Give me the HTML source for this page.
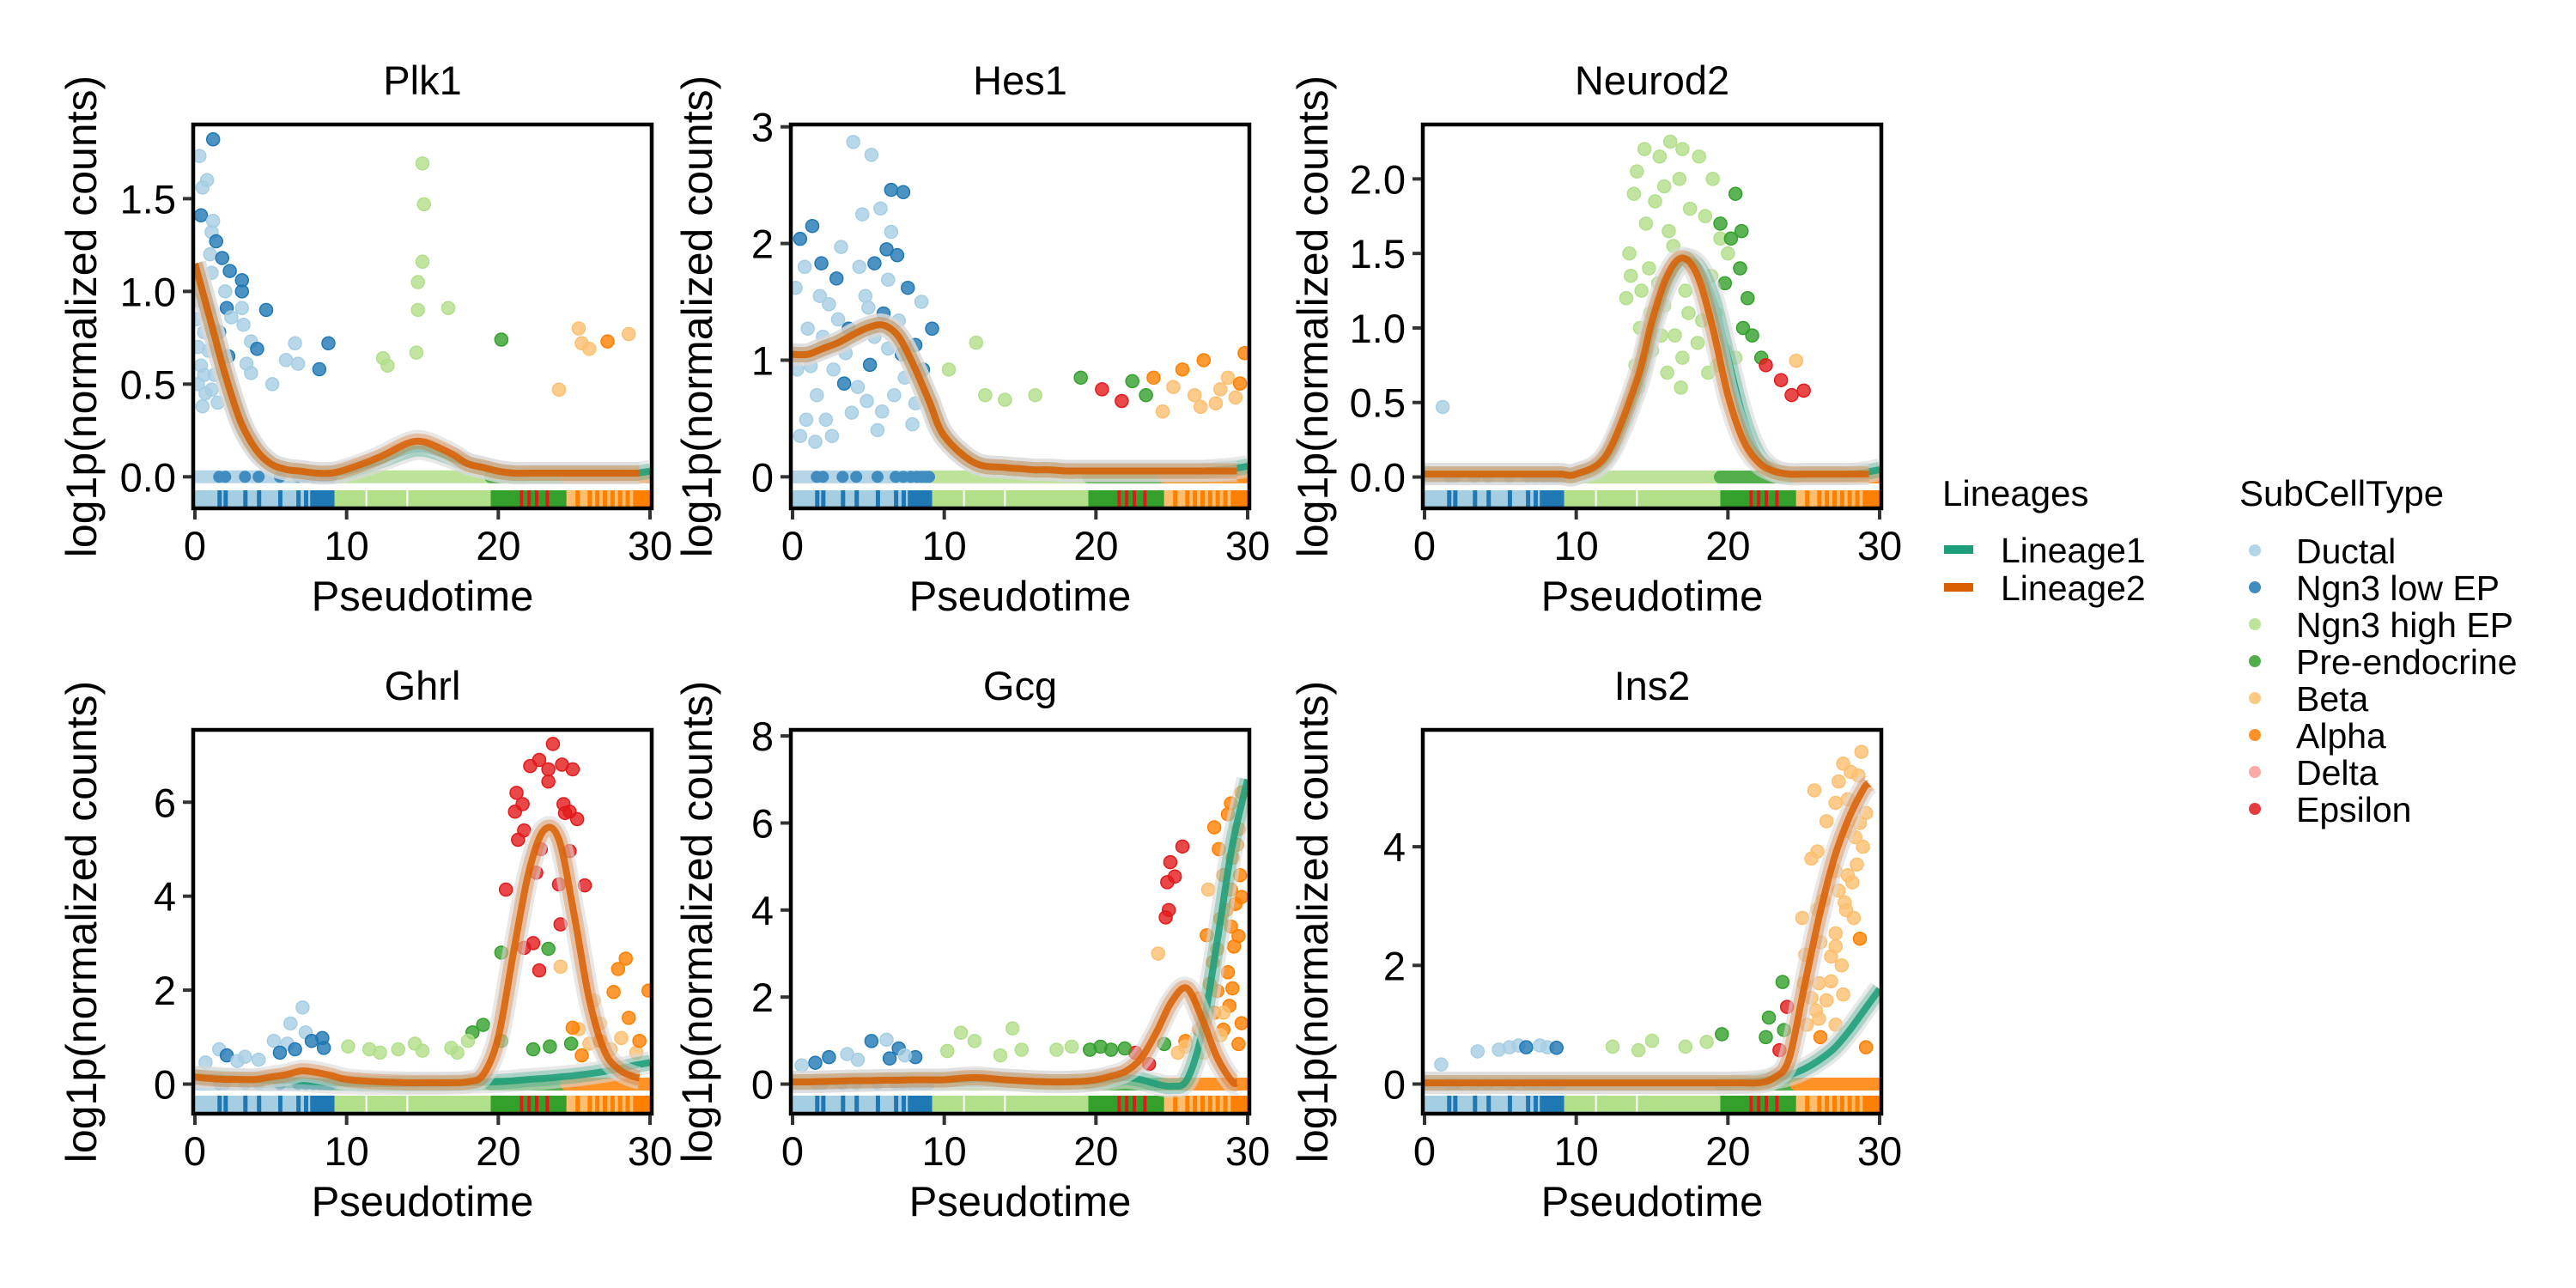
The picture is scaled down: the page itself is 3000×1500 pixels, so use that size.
<!DOCTYPE html>
<html><head><meta charset="utf-8">
<style>
html,body{margin:0;padding:0;background:#fff;}
svg{display:block;font-family:"Liberation Sans",Arial,sans-serif;}
</style></head>
<body>
<svg id="fig" width="3000" height="1500" viewBox="0 0 3000 1500" xmlns="http://www.w3.org/2000/svg">
<rect x="0" y="0" width="3000" height="1500" fill="#fff"/>
<g id="panels"></g>
<g id="legend-lineages">
  <text x="2262" y="589" font-size="42" fill="#000">Lineages</text>
  <g>
    <rect x="2264" y="635" width="34" height="10" fill="#1b9e77"/>
    <text x="2330" y="655" font-size="41">Lineage1</text>
  </g>
  <g>
    <rect x="2264" y="679" width="34" height="10" fill="#d95f02"/>
    <text x="2330" y="699" font-size="41">Lineage2</text>
  </g>
</g>
<g id="legend-types"></g>
</svg>
<script>
const NS="http://www.w3.org/2000/svg";
const typeNames=["Ductal","Ngn3 low EP","Ngn3 high EP","Pre-endocrine","Beta","Alpha","Delta","Epsilon"];
const typeColors=["#a6cee3","#1f78b4","#b2df8a","#33a02c","#fdbf6f","#ff7f00","#fb9a99","#e31a1c"];
const geneNames=["Plk1","Hes1","Neurod2","Ghrl","Gcg","Ins2"];
const yDomains=[[-0.17,1.90],[-0.27,3.02],[-0.21,2.365],[-0.63,7.54],[-0.68,8.14],[-0.5,5.97]];
const yTicks=[[0,0.5,1,1.5],[0,1,2,3],[0,0.5,1,1.5,2],[0,2,4,6],[0,2,4,6,8],[0,2,4]];
const yTickLabels=[["0.0","0.5","1.0","1.5"],["0","1","2","3"],["0.0","0.5","1.0","1.5","2.0"],["0","2","4","6"],["0","2","4","6","8"],["0","2","4"]];
const xTicks=[0,10,20,30];
const xTickLabels=["0","10","20","30"];
const gridT=[0,1,2,3,4,5,6,7,8,9,10,12,14,15,16,17,18,19,20,21,22,23,24,25,26,27,28,29,30];
const lin1=[
 [1.15,0.85,0.55,0.3,0.15,0.07,0.04,0.03,0.02,0.02,0.03,0.08,0.14,0.15,0.13,0.1,0.07,0.05,0.03,0.02,0.02,0.02,0.02,0.02,0.02,0.02,0.02,0.02,0.03],
 [1.05,1.05,1.1,1.15,1.22,1.28,1.3,1.2,0.95,0.65,0.35,0.12,0.08,0.07,0.06,0.06,0.05,0.05,0.05,0.05,0.05,0.05,0.05,0.05,0.05,0.05,0.06,0.07,0.09],
 [0.02,0.02,0.02,0.02,0.02,0.02,0.02,0.02,0.02,0.02,0.02,0.13,0.6,1.0,1.3,1.45,1.42,1.2,0.8,0.4,0.15,0.05,0.02,0.02,0.02,0.02,0.02,0.03,0.05],
 [0.15,0.14,0.12,0.1,0.09,0.08,0.08,0.07,0.05,0.03,0.02,0.01,0.01,0.01,0.01,0.02,0.03,0.04,0.05,0.07,0.1,0.12,0.15,0.18,0.22,0.27,0.33,0.4,0.46],
 [0.05,0.05,0.05,0.06,0.07,0.08,0.09,0.1,0.1,0.1,0.1,0.12,0.1,0.08,0.06,0.05,0.05,0.06,0.08,0.12,0.15,0.1,0.0,-0.05,0.1,1.2,3.3,5.5,7.0],
 [0.02,0.02,0.02,0.02,0.02,0.02,0.02,0.02,0.02,0.02,0.02,0.02,0.02,0.02,0.02,0.02,0.02,0.02,0.02,0.03,0.05,0.09,0.15,0.25,0.4,0.6,0.9,1.25,1.6]];
const lin2=[
 [1.15,0.85,0.55,0.3,0.15,0.07,0.04,0.03,0.02,0.02,0.04,0.1,0.18,0.19,0.16,0.12,0.07,0.05,0.03,0.02,0.02,0.02,0.02,0.02,0.02,0.02,0.02,0.02,0.02],
 [1.05,1.05,1.1,1.15,1.22,1.28,1.3,1.2,0.95,0.65,0.35,0.12,0.08,0.07,0.06,0.06,0.05,0.05,0.05,0.05,0.05,0.05,0.05,0.05,0.05,0.05,0.05,0.05,0.05],
 [0.02,0.02,0.02,0.02,0.02,0.02,0.02,0.02,0.02,0.02,0.02,0.15,0.65,1.05,1.35,1.47,1.35,1.0,0.55,0.25,0.1,0.04,0.02,0.02,0.02,0.02,0.02,0.02,0.02],
 [0.15,0.12,0.1,0.1,0.1,0.15,0.2,0.28,0.25,0.18,0.1,0.05,0.03,0.03,0.03,0.03,0.05,0.2,1.0,2.8,4.5,5.4,5.2,3.6,1.8,0.7,0.3,0.15,0.1],
 [0.05,0.05,0.06,0.07,0.08,0.08,0.09,0.09,0.1,0.1,0.1,0.15,0.1,0.08,0.06,0.05,0.05,0.06,0.1,0.18,0.3,0.6,1.2,1.9,2.2,1.5,0.6,0.05,0.05],
 [0.02,0.02,0.02,0.02,0.02,0.02,0.02,0.02,0.02,0.02,0.02,0.02,0.02,0.02,0.02,0.02,0.02,0.02,0.02,0.02,0.02,0.1,0.4,1.6,2.8,3.8,4.5,5.0,5.2]];
const lin2End=[29.3,29.3,29.3,29.3,29.3,29.3];
const pts=[
 [[1.2,1.82,1],[0.3,1.73,0],[0.8,1.6,0],[0.5,1.56,0],[0.4,1.41,1],[1.2,1.38,0],[1.1,1.32,0],[1.4,1.27,1],[1.0,1.2,0],[1.8,1.18,1],[1.1,1.1,0],[2.3,1.11,1],[3.1,1.06,1],[3.1,1.0,1],[2.0,1.0,0],[3.1,0.91,0],[4.7,0.9,1],[2.1,0.91,1],[2.4,0.86,0],[3.2,0.82,0],[1.6,0.78,1],[3.7,0.73,0],[4.1,0.69,1],[6.6,0.72,0],[8.8,0.72,1],[2.2,0.65,1],[6.0,0.63,0],[6.8,0.61,0],[3.4,0.61,0],[3.7,0.56,0],[8.2,0.58,1],[5.1,0.5,0],[0.6,0.78,0],[0.9,0.68,0],[0.4,0.6,0],[0.7,0.45,0],[1.1,0.47,0],[1.5,0.4,0],[0.5,0.38,0],[0.3,0.95,0],[0.1,0.85,0],[0.2,0.7,0],[0.6,0.55,0],[0.9,0.9,0],[1.3,0.55,0],[0.2,0.5,0],
  [15.0,1.69,2],[15.1,1.47,2],[15.0,1.16,2],[14.7,1.05,2],[14.7,0.9,2],[16.7,0.91,2],[12.4,0.64,2],[12.7,0.6,2],[14.6,0.67,2],[20.2,0.74,3],[25.3,0.8,4],[25.5,0.72,4],[26.0,0.69,4],[28.6,0.77,4],[24.0,0.47,4],[27.2,0.73,5]],
 [[4,2.87,0],[5.2,2.76,0],[6.5,2.46,1],[7.3,2.44,1],[1.3,2.15,1],[0.5,2.04,1],[1.9,1.83,1],[3.2,1.97,0],[4.6,2.25,0],[5.4,1.83,1],[6.3,1.69,0],[7.6,1.62,1],[2.4,1.48,0],[1.0,1.27,0],[3.7,1.27,1],[7.0,1.34,0],[8.1,1.13,1],[8.6,0.92,1],[9.2,1.27,1],[0.3,0.92,0],[1.6,0.7,0],[0.5,0.35,0],[2.2,0.49,0],[4.3,0.77,0],[5.9,0.56,0],[8.1,0.63,0],[7.4,0.85,0],[3.5,1.06,0],[5.1,0.96,1],[0.2,1.62,0],[0.9,0.49,0],[6.5,2.1,0],[5.4,1.2,0],[2.7,0.92,0],[4.8,1.55,0],[2.9,1.7,1],[6.9,1.9,1],
  [5.8,2.3,0],[6.2,1.95,1],[4.4,1.8,0],[5.0,1.45,0],[6.0,1.4,1],[3.0,1.35,0],[2.0,1.2,0],[1.2,0.95,0],[3.9,0.55,0],[4.9,0.65,0],[6.7,0.7,0],[7.9,0.45,0],[2.6,0.35,0],[1.5,0.3,0],[6.3,1.1,0],[7.2,1.05,1],[8.5,1.5,0],[5.6,0.4,0],[3.4,0.8,1],[1.8,1.55,0],[0.8,1.8,0],
  [12.1,1.15,2],[12.7,0.7,2],[16,0.7,2],[10.3,0.92,2],[14,0.66,2],[19,0.85,3],[20.4,0.75,7],[21.7,0.65,7],[22.4,0.82,3],[23.3,0.7,3],[23.8,0.85,5],[25.7,0.92,5],[27.1,1.0,5],[28.7,0.85,4],[29.2,0.68,4],[27.9,0.63,4],[26.5,0.7,4],[29.8,1.06,5],[25.1,0.77,4],[24.4,0.56,4],[28.2,0.75,4],[26.9,0.6,4],[29.5,0.8,5]],
 [[14.5,2.2,2],[15.5,2.15,2],[16.2,2.25,2],[17,2.2,2],[18.1,2.15,2],[14,2.05,2],[16.8,2.0,2],[19,2.0,2],[13.8,1.9,2],[15.2,1.85,2],[18.5,1.75,2],[14.6,1.7,2],[16.1,1.65,2],[19.5,1.6,2],[13.5,1.5,2],[14.8,1.4,2],[18.9,1.35,2],[20,1.5,2],[13.3,1.2,2],[15.8,1.15,2],[17.4,1.1,2],[19.2,1.1,2],[14.2,1.0,2],[16.5,0.95,2],[18,0.9,2],[15,0.85,2],[17,0.8,2],[19.8,0.85,2],[13.9,0.75,2],[16,0.7,2],[18.7,0.7,2],[20.5,0.8,2],[15.4,1.3,2],[17.8,1.4,2],[14.3,1.25,2],
  [15.8,1.95,2],[17.5,1.8,2],[16.4,1.55,2],[13.6,1.35,2],[14.9,1.1,2],[17.2,1.25,2],[18.3,1.05,2],[15.6,0.95,2],[16.9,0.6,2],[14.1,0.6,2],[19.3,0.75,2],
  [19.5,1.7,3],[20.2,1.6,3],[20.8,1.4,3],[21.3,1.2,3],[20.5,1.9,3],[19.8,1.3,3],[21.0,1.0,3],[21.6,0.95,3],[22.2,0.8,3],[20.9,1.65,3],[22.5,0.75,7],[23.5,0.65,7],[25.0,0.58,7],[24.2,0.55,7],[24.5,0.78,4],[1.2,0.47,0]],
 [[23.6,7.24,7],[22.7,6.9,7],[22.1,6.77,7],[23.3,6.7,7],[24.2,6.8,7],[24.9,6.7,7],[23.3,6.44,7],[21.2,6.2,7],[21.6,5.96,7],[21.1,5.8,7],[24.3,5.96,7],[24.7,5.8,7],[25.2,5.64,7],[24.4,5.77,7],[21.7,5.4,7],[21.3,5.2,7],[22.8,5.0,7],[24.7,4.96,7],[22.5,4.5,7],[24,4.25,7],[25.7,4.23,7],[20.5,4.14,7],[24.1,3.4,7],[22.3,3.0,7],[21.7,2.9,7],[22.7,2.42,7],
  [23.3,2.88,3],[20.2,2.8,3],[18.3,1.1,3],[19,1.26,3],[20.2,0.92,3],[22.3,0.74,3],[23.4,0.8,3],[24.8,0.86,3],
  [24.1,2.5,4],[26.3,1.78,4],[25.3,1.17,4],[26.7,1.29,4],[28.1,0.98,4],[27.4,0.74,4],[29.1,0.67,4],[26,0.86,4],
  [28.4,2.67,5],[27.9,2.45,5],[27.6,1.96,5],[29.9,1.99,5],[24.9,1.2,5],[28.6,1.41,5],[29.3,0.92,5],[26.7,0.92,5],[25.5,0.61,5],
  [7.1,1.63,0],[6.3,1.29,0],[5.2,0.92,0],[6.1,0.86,0],[7.3,1.1,0],[7.7,0.92,1],[8.4,0.98,1],[8.5,0.77,1],[1.6,0.74,0],[2.1,0.61,1],[3.3,0.58,0],[4.2,0.52,0],[0.7,0.46,0],[2.8,0.49,0],[5.6,0.67,1],[6.6,0.74,1],
  [10.1,0.8,2],[11.5,0.74,2],[12.2,0.67,2],[13.4,0.74,2],[14.5,0.86,2],[15,0.71,2],[16.9,0.77,2],[17.3,0.67,2],[18,0.92,2]],
 [[29.6,6.7,5],[28.9,6.45,5],[28.7,6.2,5],[27.8,5.9,5],[29.4,5.86,5],[28.1,5.4,5],[29.0,5.2,5],[29.5,4.8,5],[28.9,4.47,5],[29.2,4.14,5],[28.6,4.0,5],[28.9,3.62,5],[27.3,3.42,5],[29.1,3.16,5],[28,3.1,5],[28.7,2.57,5],[27.5,2.3,5],[28,2.14,5],[26.8,1.97,5],[27.8,1.64,5],[28.4,1.25,5],[29.4,0.92,5],[25.9,0.99,5],[26.8,1.25,5],
  [29.3,5.5,5],[28.4,4.8,5],[29.6,4.3,5],[28.2,3.8,5],[29.4,3.4,5],[27.7,2.8,5],[29.0,2.2,5],[28.8,1.8,5],[27.2,1.5,5],[29.6,1.4,5],
  [27.4,4.47,4],[24.1,3.0,4],[28.2,1.12,4],[25.9,0.86,4],[27.1,0.72,4],[28.4,1.64,4],[25.4,0.72,4],
  [25.7,5.46,7],[24.9,5.1,7],[25.2,4.77,7],[24.7,4.64,7],[24.8,4.0,7],[24.6,3.83,7],[23.5,0.46,7],[22.6,0.72,7],
  [20.3,0.86,3],[21,0.79,3],[21.9,0.82,3],[24.5,0.92,3],[19.6,0.79,3],
  [11.1,1.18,2],[12,0.99,2],[14.5,1.28,2],[10.2,0.76,2],[13.7,0.66,2],[15.1,0.79,2],[17.4,0.79,2],[18.4,0.86,2],
  [5.2,0.99,1],[6.2,1.02,0],[7,0.82,1],[8.1,0.62,1],[6.4,0.59,1],[2.4,0.62,1],[1.5,0.49,1],[3.6,0.69,0],[0.6,0.43,0],[4.3,0.56,0],[7.4,0.66,0]],
 [[28.8,5.6,4],[27.6,5.4,4],[28.1,5.26,4],[27.3,5.1,4],[25.7,4.95,4],[27.1,4.74,4],[29.1,4.57,4],[26.5,4.43,4],[28,4.26,4],[28.4,4.16,4],[28.9,4,4],[25.5,3.8,4],[25.9,3.92,4],[27.1,3.59,4],[27.9,3.52,4],[28.2,3.4,4],[27.3,3.26,4],[27.7,3.06,4],[25.9,2.94,4],[27.8,2.93,4],[24.9,2.8,4],[27.1,2.54,4],[26.1,2.39,4],[27.1,2.32,4],[25.1,2.18,4],[26.8,2.15,4],[25,1.7,4],[26,1.7,4],[26.8,1.73,4],[27.6,1.51,4],[26.5,1.41,4],[25.8,1.24,4],[25.2,1.0,4],[27.1,1.0,4],[28.5,3.7,4],[28.7,4.4,4],
  [26.3,3.1,4],[27.5,2.0,4],[28.3,2.8,4],[26.0,1.1,4],[25.5,1.45,4],[27.9,4.8,4],[28.6,5.2,4],
  [28.7,2.45,5],[26.1,0.79,5],[29.1,0.62,5],
  [23.6,1.72,3],[22.7,1.12,3],[23.7,0.91,3],[22.5,0.79,3],[19.6,0.84,3],
  [23.9,1.3,7],[23.4,0.57,7],
  [12.4,0.63,2],[14.1,0.57,2],[15,0.73,2],[17.2,0.63,2],[18.6,0.71,2],
  [1.1,0.33,0],[3.5,0.55,0],[4.9,0.58,0],[5.6,0.62,0],[6.2,0.65,0],[6.7,0.62,1],[7.6,0.65,0],[8.1,0.62,0],[8.7,0.61,1]]
];
const zeroSegT0=[0,9.3,19.5,24.5];
const zeroSegT1=[9.3,19.5,24.5,30];
const zeroSegType=[0,2,3,5];
const rugLowEP=[1.6,2.0,3.3,4.2,5.6,6.8,7.3,7.8,8.2,8.5,8.8,9.0];
const rugEps=[21.5,22.0,22.5,23.2];
const rugAlpha=[25.2,26,26.5,27,27.5,28,28.5,29.0,29.3,29.6];
const rugWhite=[11.3,14.0];

const panelX=[225,921,1657,225,921,1657];
const panelY=[145,145,145,850,850,850];
const PW=534, PH=447;
const titleX=[96,813,1530,96,813,1530];

function el(tag,attrs,parent){const e=document.createElementNS(NS,tag);for(const k in attrs)e.setAttribute(k,attrs[k]);if(parent)parent.appendChild(e);return e;}
function smoothPath(P){
  let d="M"+P[0][0].toFixed(1)+","+P[0][1].toFixed(1);
  for(let i=0;i<P.length-1;i++){
    const p0=P[Math.max(0,i-1)],p1=P[i],p2=P[i+1],p3=P[Math.min(P.length-1,i+2)];
    const c1=[p1[0]+(p2[0]-p0[0])/6,p1[1]+(p2[1]-p0[1])/6];
    const c2=[p2[0]-(p3[0]-p1[0])/6,p2[1]-(p3[1]-p1[1])/6];
    d+="C"+c1[0].toFixed(1)+","+c1[1].toFixed(1)+" "+c2[0].toFixed(1)+","+c2[1].toFixed(1)+" "+p2[0].toFixed(1)+","+p2[1].toFixed(1);
  }
  return d;
}
const root=document.getElementById("panels");
for(let p=0;p<6;p++){
  const x0=panelX[p],y0=panelY[p];
  const [ymin,ymax]=yDomains[p];
  const sx=t=>x0+2+(t/30)*(PW-4);
  const sy=v=>y0+PH-(v-ymin)/(ymax-ymin)*PH;
  const g=el("g",{},root);
  
  
  const cp=el("clipPath",{id:"clip"+p},g);
  el("rect",{x:x0,y:y0,width:PW,height:PH},cp);
  const inner=el("g",{"clip-path":"url(#clip"+p+")"},g);
  const rug=el("g",{},inner);
  
  
  const rugY=y0+PH-21, rugH=19;
  const rugBase=[[0,9.2,0],[9.2,19.5,2],[19.5,24.5,3],[24.5,30,4]];
  rugBase.forEach(s=>el("rect",{x:sx(s[0]),y:rugY,width:sx(s[1])-sx(s[0]),height:rugH,fill:typeColors[s[2]]},rug));
  el("rect",{x:sx(7.6),y:rugY,width:sx(9.2)-sx(7.6),height:rugH,fill:typeColors[1]},rug);
  rugLowEP.forEach(t=>el("rect",{x:sx(t)-2,y:rugY,width:5,height:rugH,fill:typeColors[1]},rug));
  rugEps.forEach(t=>el("rect",{x:sx(t)-1.5,y:rugY,width:4,height:rugH,fill:typeColors[7]},rug));
  rugAlpha.forEach(t=>el("rect",{x:sx(t)-2,y:rugY,width:5,height:rugH,fill:typeColors[5]},rug));
  rugWhite.forEach(t=>el("rect",{x:sx(t)-1,y:rugY,width:2,height:rugH,fill:"#fff"},rug));
  el("rect",{x:sx(29),y:rugY,width:sx(30)-sx(29)+4,height:rugH,fill:typeColors[5]},rug);
  const zr=el("g",{opacity:0.85},inner);
  
  
  for(let i=0;i<zeroSegT0.length;i++){
    el("line",{x1:sx(zeroSegT0[i]),x2:sx(zeroSegT1[i]),y1:sy(0),y2:sy(0),stroke:typeColors[zeroSegType[i]],"stroke-width":15,"stroke-linecap":"round"},zr);
  }
  rugLowEP.forEach(t=>el("circle",{cx:sx(t),cy:sy(0),r:7,fill:typeColors[1]},zr));
  const sc=el("g",{},inner);
  
  
  pts[p].forEach(q=>{
    const c=el("circle",{cx:sx(q[0]),cy:sy(q[1]),r:7.5,fill:typeColors[q[2]],"fill-opacity":0.8,stroke:typeColors[q[2]],"stroke-width":1.5},sc);
    
    
  });
  const drawLine=(vals,color,endT,name)=>{
    const P=[];
    for(let i=0;i<gridT.length;i++){ if(gridT[i]<=endT) P.push([sx(gridT[i]),sy(vals[i])]); }
    if(endT<30){ const i=gridT.findIndex(t=>t>endT); const f=(endT-gridT[i-1])/(gridT[i]-gridT[i-1]); P.push([sx(endT),sy(vals[i-1]+(vals[i]-vals[i-1])*f)]); }
    const d=smoothPath(P);
    const lg=el("g",{},inner);
    
    
    el("path",{d:d,fill:"none",stroke:"#d9d9d9","stroke-width":26,"stroke-opacity":0.6,"stroke-linejoin":"round"},lg);
    el("path",{d:d,fill:"none",stroke:color,"stroke-width":18,"stroke-opacity":0.3,"stroke-linejoin":"round"},lg);
    el("path",{d:d,fill:"none",stroke:color,"stroke-width":8,"stroke-opacity":0.85,"stroke-linejoin":"round"},lg);
  };
  drawLine(lin1[p],"#1b9e77",30,"lineage1-curve");
  drawLine(lin2[p],"#d95f02",lin2End[p],"lineage2-curve");
  const b=el("rect",{x:x0,y:y0,width:PW,height:PH,fill:"none",stroke:"#000","stroke-width":4.5},g);
  
  
  const ya=el("g",{},g);
  
  
  yTicks[p].forEach((v,i)=>{
    el("line",{x1:x0-12,x2:x0-2,y1:sy(v),y2:sy(v),stroke:"#333","stroke-width":4},ya);
    const t=el("text",{x:x0-20,y:sy(v)+17,"font-size":47,"text-anchor":"end",fill:"#000"},ya);
    t.textContent=yTickLabels[p][i];
  });
  const xa=el("g",{},g);
  
  
  xTicks.forEach((v,i)=>{
    el("line",{x1:sx(v),x2:sx(v),y1:y0+PH+2,y2:y0+PH+13,stroke:"#333","stroke-width":4},xa);
    const t=el("text",{x:sx(v),y:y0+PH+60,"font-size":47,"text-anchor":"middle",fill:"#000"},xa);
    t.textContent=xTickLabels[i];
  });
  const xt=el("text",{x:x0+PW/2,y:y0+PH+119,"font-size":49,"text-anchor":"middle",fill:"#000"},g);
  xt.textContent="Pseudotime";
  
  
  const yc=y0+PH/2;
  const yt=el("text",{x:0,y:0,"font-size":50,"text-anchor":"middle",fill:"#000",transform:"translate("+(titleX[p]+16)+","+yc+") rotate(-90)"},g);
  yt.textContent="log1p(normalized counts)";
  
  
  const tt=el("text",{x:x0+PW/2,y:y0-35,"font-size":47,"text-anchor":"middle",fill:"#000"},g);
  tt.textContent=geneNames[p];
  
  
}
const lt=document.getElementById("legend-types");
const ltt=el("text",{x:2608,y:589,"font-size":42,fill:"#000"},lt);
ltt.textContent="SubCellType";


typeNames.forEach((n,i)=>{
  const g=el("g",{},lt);
  
  
  el("circle",{cx:2626,cy:641+i*43,r:7,fill:typeColors[i],"fill-opacity":0.85},g);
  const t=el("text",{x:2674,y:656+i*43,"font-size":41,fill:"#000"},g);
  t.textContent=n;
});
</script>
</body></html>
